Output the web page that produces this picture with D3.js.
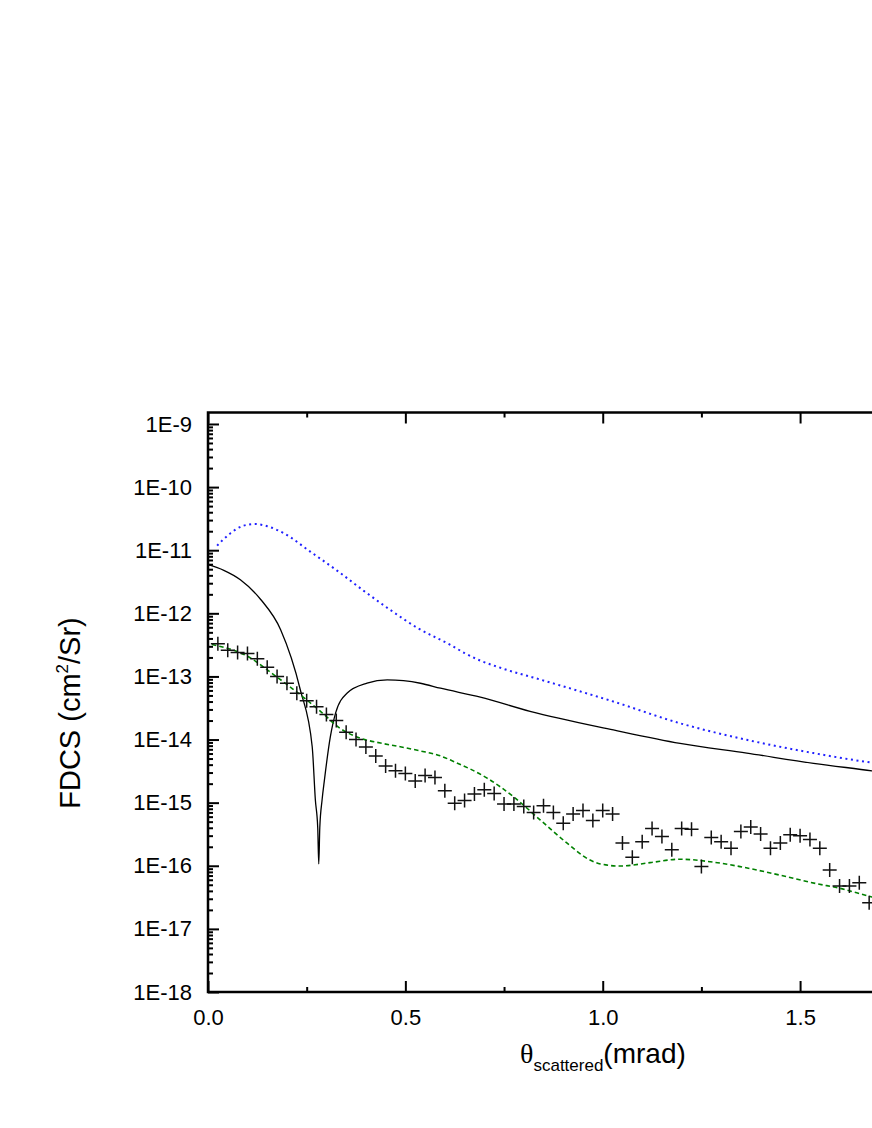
<!DOCTYPE html>
<html>
<head>
<meta charset="utf-8">
<script src="https://cdn.jsdelivr.net/npm/d3@7"></script>
<style>
  body { margin: 0; background: #fff; }
  svg { display: block; font-family: "Liberation Sans", Arial, sans-serif; }
</style>
</head>
<body>
<div id="chart"></div>
<script>
// experimental points (theta in mrad, FDCS in cm^2/sr)
const expTheta = [0.025, 0.05, 0.075, 0.1, 0.125, 0.15, 0.175, 0.2, 0.225, 0.25,
  0.275, 0.3, 0.325, 0.35, 0.375, 0.4, 0.425, 0.45, 0.475, 0.5,
  0.525, 0.55, 0.575, 0.6, 0.625, 0.65, 0.675, 0.7, 0.725, 0.75,
  0.775, 0.8, 0.825, 0.85, 0.875, 0.9, 0.925, 0.95, 0.975, 1.0,
  1.025, 1.05, 1.075, 1.1, 1.125, 1.15, 1.175, 1.2, 1.225, 1.25,
  1.275, 1.3, 1.325, 1.35, 1.375, 1.4, 1.425, 1.45, 1.475, 1.5,
  1.525, 1.55, 1.575, 1.6, 1.625, 1.65, 1.675];
const expFdcs = [3.3e-13, 2.6e-13, 2.4e-13, 2.3e-13, 1.9e-13, 1.4e-13, 1.0e-13, 7.8e-14, 5.4e-14, 4.1e-14,
  3.3e-14, 2.5e-14, 2.0e-14, 1.3e-14, 1.0e-14, 7.6e-15, 5.5e-15, 3.8e-15, 3.2e-15, 2.9e-15,
  2.2e-15, 2.7e-15, 2.5e-15, 1.55e-15, 9.8e-16, 1.08e-15, 1.37e-15, 1.6e-15, 1.4e-15, 9.5e-16,
  9.5e-16, 8.7e-16, 7.0e-16, 8.9e-16, 7.0e-16, 4.7e-16, 6.6e-16, 7.5e-16, 5.2e-16, 7.5e-16,
  6.6e-16, 2.3e-16, 1.36e-16, 2.4e-16, 3.9e-16, 2.9e-16, 1.8e-16, 3.9e-16, 3.8e-16, 9.7e-17,
  2.8e-16, 2.4e-16, 1.9e-16, 3.5e-16, 4.1e-16, 3.2e-16, 1.9e-16, 2.3e-16, 3.1e-16, 3.0e-16,
  2.6e-16, 1.9e-16, 8.6e-17, 4.8e-17, 4.8e-17, 5.4e-17, 2.6e-17];

// solid black curve
const solidTheta = [0.0, 0.04, 0.082, 0.133, 0.184, 0.234, 0.264, 0.272, 0.278, 0.2806, 0.2832,
  0.289, 0.295, 0.31, 0.323, 0.352, 0.403, 0.454, 0.538, 0.589, 0.69, 0.816, 1.027, 1.196,
  1.365, 1.534, 1.682, 1.75];
const solidFdcs = [5.9e-12, 4.8e-12, 3.4e-12, 1.67e-12, 5.5e-13, 6.1e-14, 7.7e-15, 1.1e-15, 4.0e-16, 1.07e-16, 4.0e-16,
  1.1e-15, 2.3e-15, 1.11e-14, 2.6e-14, 5.4e-14, 7.8e-14, 8.8e-14, 7.8e-14, 6.5e-14, 4.7e-14, 2.8e-14, 1.42e-14, 8.7e-15,
  6.1e-15, 4.2e-15, 3.2e-15, 2.8e-15];

// blue dotted curve
const dotTheta = [0.023, 0.057, 0.09, 0.12, 0.15, 0.192, 0.259, 0.327, 0.394, 0.462, 0.53,
  0.614, 0.65, 0.69, 0.732, 0.859, 1.027, 1.196, 1.365, 1.534, 1.682, 1.75];
const dotFdcs = [1.18e-11, 1.86e-11, 2.45e-11, 2.6e-11, 2.4e-11, 1.86e-11, 9.5e-12, 4.75e-12, 2.29e-12, 1.13e-12, 5.9e-13,
  3.16e-13, 2.35e-13, 1.78e-13, 1.43e-13, 8.3e-14, 4.0e-14, 1.81e-14, 9.9e-15, 6.1e-15, 4.3e-15, 3.8e-15];

// green dashed curve
const dashTheta = [0.01, 0.099, 0.167, 0.234, 0.285, 0.335, 0.386, 0.437, 0.487, 0.538, 0.589,
  0.622, 0.707, 0.774, 0.842, 0.909, 0.964, 0.994, 1.044, 1.12, 1.196, 1.272, 1.348, 1.449,
  1.542, 1.601, 1.682, 1.75];
const dashFdcs = [3.2e-13, 2.1e-13, 1.06e-13, 5.1e-14, 2.8e-14, 1.5e-14, 1.05e-14, 8.8e-15, 7.7e-15, 6.6e-15, 5.5e-15,
  4.5e-15, 2.45e-15, 1.24e-15, 5.3e-16, 2.3e-16, 1.27e-16, 1.07e-16, 9.9e-17, 1.12e-16, 1.27e-16, 1.16e-16, 9.7e-17, 7.1e-17,
  5.2e-17, 4.4e-17, 3.2e-17, 2.6e-17];

// axis ticks
const xMajor = [0, 0.5, 1.0, 1.5];
const xMinor = [0.25, 0.75, 1.25, 1.75];
const xTickLabels = ["0.0", "0.5", "1.0", "1.5"];
const yMajor = [1e-18, 1e-17, 1e-16, 1e-15, 1e-14, 1e-13, 1e-12, 1e-11, 1e-10, 1e-9];
const yTickLabels = ["1E-18", "1E-17", "1E-16", "1E-15", "1E-14", "1E-13", "1E-12", "1E-11", "1E-10", "1E-9"];

const W = 872, H = 1128;
const margin = {left: 208, top: 412.5, bottom: 992, right: 918.5};

const svg = d3.select("#chart").append("svg")
    .attr("width", W)
    .attr("height", H);

// scales
const x = d3.scaleLinear().domain([0, 1.8]).range([margin.left, margin.right]);
const y = d3.scaleLog().domain([1e-18, 1.52e-9]).range([margin.bottom, margin.top]);

/////////////
// AXES    //
/////////////

// left axis, major ticks with labels
svg.append("g")
    .attr("transform", "translate(" + margin.left + ",0)")
    .call(d3.axisLeft(y)
        .tickValues(yMajor)
        .tickSize(-11)
        .tickPadding(16)
        .tickFormat((d, i) => yTickLabels[i]));

// left axis minor ticks
const yMinor = y.ticks().filter(d => yMajor.indexOf(d) < 0);
svg.append("g")
    .attr("transform", "translate(" + margin.left + ",0)")
    .call(d3.axisLeft(y).tickValues(yMinor).tickSize(-5).tickFormat(""));

// bottom axis
svg.append("g")
    .attr("transform", "translate(0," + margin.bottom + ")")
    .call(d3.axisBottom(x)
        .tickValues(xMajor)
        .tickSize(-11)
        .tickPadding(17)
        .tickFormat((d, i) => xTickLabels[i]));
svg.append("g")
    .attr("transform", "translate(0," + margin.bottom + ")")
    .call(d3.axisBottom(x).tickValues(xMinor).tickSize(-5).tickFormat(""));

// top axis (ticks only)
svg.append("g")
    .attr("transform", "translate(0," + margin.top + ")")
    .call(d3.axisTop(x).tickValues(xMajor).tickSize(-11).tickFormat(""));
svg.append("g")
    .attr("transform", "translate(0," + margin.top + ")")
    .call(d3.axisTop(x).tickValues(xMinor).tickSize(-5).tickFormat(""));

svg.selectAll(".domain").remove();
svg.selectAll(".tick line").attr("stroke", "#000").attr("stroke-width", 2);
svg.selectAll(".tick text")
    .attr("fill", "#000")
    .style("font-size", "22px")
    .style("font-family", "'Liberation Sans', Arial, sans-serif");

// frame
svg.append("rect")
    .attr("x", margin.left)
    .attr("y", margin.top)
    .attr("width", margin.right - margin.left)
    .attr("height", margin.bottom - margin.top)
    .attr("fill", "none")
    .attr("stroke", "#000")
    .attr("stroke-width", 2.5);

////////////
// CURVES //
////////////

svg.append("defs").append("clipPath")
    .attr("id", "plotclip")
    .append("rect")
    .attr("x", margin.left)
    .attr("y", margin.top)
    .attr("width", margin.right - margin.left)
    .attr("height", margin.bottom - margin.top);

const plot = svg.append("g").attr("clip-path", "url(#plotclip)");

const line = d3.line()
    .x(d => x(d[0]))
    .y(d => y(d[1]))
    .curve(d3.curveMonotoneX);

plot.append("path")
    .datum(d3.zip(dotTheta, dotFdcs))
    .attr("d", line)
    .attr("fill", "none")
    .attr("stroke", "#2020ff")
    .attr("stroke-width", 2)
    .attr("stroke-dasharray", "2,3.6");

plot.append("path")
    .datum(d3.zip(solidTheta, solidFdcs))
    .attr("d", line)
    .attr("fill", "none")
    .attr("stroke", "#000")
    .attr("stroke-width", 1.3);

plot.append("path")
    .datum(d3.zip(dashTheta, dashFdcs))
    .attr("d", line)
    .attr("fill", "none")
    .attr("stroke", "#008000")
    .attr("stroke-width", 1.6)
    .attr("stroke-dasharray", "4.5,3");

// experimental crosses
const s = 7;
plot.selectAll("path.cross")
    .data(d3.zip(expTheta, expFdcs))
    .enter()
    .append("path")
    .attr("class", "cross")
    .attr("transform", d => "translate(" + x(d[0]) + "," + y(d[1]) + ")")
    .attr("d", "M" + (-s) + ",0H" + s + "M0," + (-s) + "V" + s)
    .attr("stroke", "#111")
    .attr("stroke-width", 1.5)
    .attr("fill", "none");

////////////
// LABELS //
////////////

const yTitle = svg.append("text")
    .attr("transform", "translate(80,713) rotate(-90)")
    .attr("text-anchor", "middle")
    .style("font-size", "29px")
    .attr("fill", "#000");
yTitle.append("tspan").text("FDCS (cm");
yTitle.append("tspan").attr("dy", -12).style("font-size", "17px").text("2");
yTitle.append("tspan").attr("dy", 12).text("/Sr)");

const xTitle = svg.append("text")
    .attr("x", 520)
    .attr("y", 1063)
    .style("font-size", "28px")
    .attr("fill", "#000");
xTitle.append("tspan").style("font-family", "'Liberation Serif', serif").text("θ");
xTitle.append("tspan").attr("dy", 8).style("font-size", "17px").text("scattered");
xTitle.append("tspan").attr("dy", -8).text("(mrad)");
</script>
</body>
</html>
